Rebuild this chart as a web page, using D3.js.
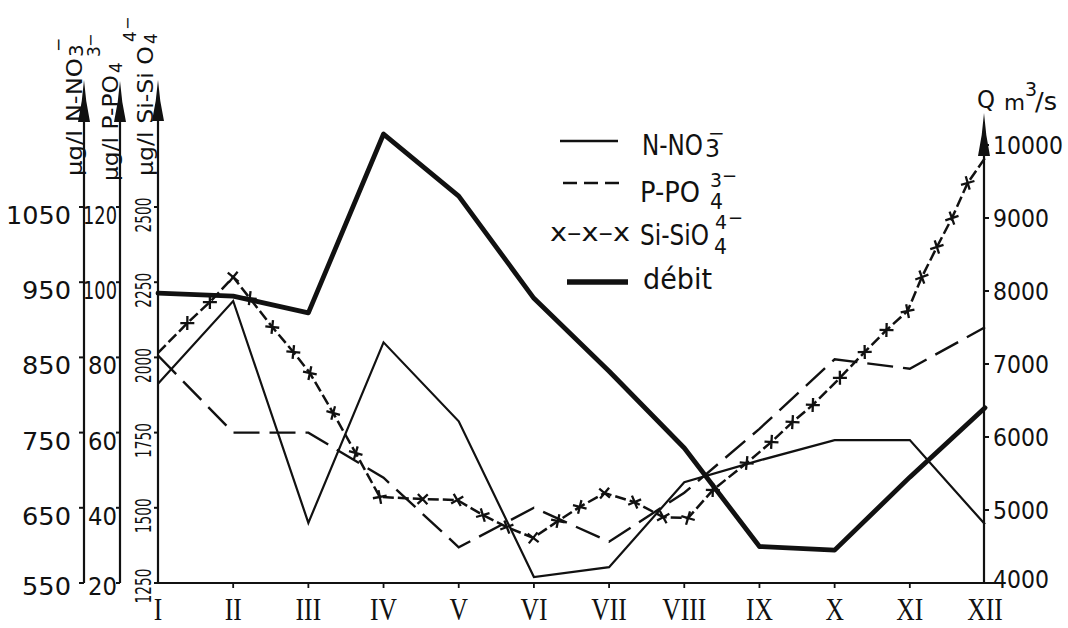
<!DOCTYPE html>
<html><head><meta charset="utf-8">
<script src="https://cdn.jsdelivr.net/npm/d3@7"></script>
<style>body{margin:0;background:#fff} svg{display:block}</style>
</head><body><svg id="c" width="1068" height="628"></svg>
<script>
// ---- data ----
const months = ["I","II","III","IV","V","VI","VII","VIII","IX","X","XI","XII"];
const nitrate   = [815, 925, 630, 870, 765, 558, 571, 684, 713, 740, 740, 628];      // µg/l N-NO3
const phosphate = [80.5, 60, 60, 48, 29.5, 40, 31, 44, 61, 79.5, 77, 88];           // µg/l P-PO4
const debit     = [7970, 7930, 7700, 10150, 9300, 7900, 6900, 5850, 4500, 4450, 5450, 6400]; // m3/s
const silicaMonth = [0, 0.39, 0.69, 1, 1.22, 1.52, 1.8, 2.02, 2.33, 2.63, 2.95, 3.52, 3.98, 4.32, 4.64, 4.99,
  5.32, 5.61, 5.94, 6.34, 6.72, 7.05, 7.38, 7.83, 8.16, 8.44, 8.71, 9.07, 9.4, 9.69, 9.97, 10.16, 10.36, 10.56, 10.77, 11];
const silica = [2015, 2114, 2184, 2267, 2197, 2101, 2018, 1948, 1815, 1682, 1536, 1529, 1526, 1476, 1436, 1400,
  1456, 1503, 1549, 1519, 1469, 1466, 1559, 1649, 1719, 1785, 1842, 1932, 2018, 2091, 2154, 2267, 2367, 2463, 2580, 2663];
const nTicks  = [550, 650, 750, 850, 950, 1050];
const pTicks  = [20, 40, 60, 80, 100, 120];
const siTicks = [1250, 1500, 1750, 2000, 2250, 2500];
const qTicks  = [4000, 5000, 6000, 7000, 8000, 9000, 10000];

// ---- scales ----
const svg = d3.select("#c");
const INK = "#111";
const FONT = "DejaVu Sans, sans-serif";
const x  = d3.scaleLinear().domain([0, 11]).range([158, 985]);
const yN = d3.scaleLinear().domain([550, 1050]).range([583, 207]);
const yP = d3.scaleLinear().domain([20, 120]).range([583, 207]);
const ySi = d3.scaleLinear().domain([1250, 2500]).range([583, 207]);
const yQ = d3.scaleLinear().domain([4000, 10000]).range([583, 145]);

function arrowHead(g, cx, tip, base, hw) {
  g.append("path")
    .attr("d", `M${cx},${tip} Q${cx+1.5},${(tip+base)/2} ${cx+hw},${base} L${cx-hw},${base} Q${cx-1.5},${(tip+base)/2} ${cx},${tip} Z`)
    .attr("fill", INK);
}
function vAxisLine(cx, top) {
  svg.append("line").attr("x1", cx).attr("x2", cx).attr("y1", 583).attr("y2", top)
    .attr("stroke", INK).attr("stroke-width", 2.2);
}

// ---- left axes ----
vAxisLine(84, 100); arrowHead(svg, 84, 80, 122, 6);
vAxisLine(120, 100); arrowHead(svg, 120, 81, 122, 6);
vAxisLine(158, 100); arrowHead(svg, 158, 80, 121, 6);

// N axis ticks + labels
nTicks.forEach((t, i) => {
  const yy = yN(t);
  svg.append("line").attr("x1", 79).attr("x2", 84).attr("y1", yy).attr("y2", yy).attr("stroke", INK).attr("stroke-width", 2);
  const s = String(t);
  svg.append("text").attr("x", 71).attr("y", yy + (i === 0 ? 12 : 17))
    .attr("text-anchor", "end").attr("font-family", FONT).attr("font-size", 25).attr("fill", INK)
    .attr("textLength", s.length === 4 ? 65 : 49).attr("lengthAdjust", "spacingAndGlyphs").text(s);
});
// P axis ticks + labels
pTicks.forEach((t, i) => {
  const yy = yP(t);
  svg.append("line").attr("x1", 116).attr("x2", 120).attr("y1", yy).attr("y2", yy).attr("stroke", INK).attr("stroke-width", 2);
  const s = String(t);
  svg.append("text").attr("x", 117).attr("y", yy + (i === 0 ? 12 : 17))
    .attr("text-anchor", "end").attr("font-family", FONT).attr("font-size", 25).attr("fill", INK)
    .attr("textLength", s.length === 3 ? 34 : 29).attr("lengthAdjust", "spacingAndGlyphs").text(s);
});
// Si axis ticks + rotated labels
siTicks.forEach((t, i) => {
  const yy = ySi(t);
  svg.append("line").attr("x1", 154).attr("x2", 158).attr("y1", yy).attr("y2", yy).attr("stroke", INK).attr("stroke-width", 2);
  svg.append("text").attr("transform", `translate(151,${yy + (i === 0 ? 3 : 8)}) rotate(-90)`)
    .attr("text-anchor", "middle").attr("font-family", FONT).attr("font-size", 21).attr("fill", INK)
    .attr("textLength", 35).attr("lengthAdjust", "spacingAndGlyphs").text(String(t));
});

// rotated axis titles
function rotTitle(bx, by, main, mainLen, scripts) {
  const g = svg.append("g").attr("transform", `translate(${bx},${by}) rotate(-90)`)
    .attr("font-family", FONT).attr("fill", INK);
  g.append("text").attr("x", 0).attr("y", 0).attr("font-size", 22)
    .attr("textLength", mainLen).attr("lengthAdjust", "spacingAndGlyphs").text(main);
  scripts.forEach(s => g.append("text").attr("x", s.x).attr("y", s.y).attr("font-size", s.size).text(s.t));
}
rotTitle(82, 176, "µg/l N-NO", 118, [{t: "3", x: 119, y: 1, size: 20}, {t: "−", x: 124, y: -18, size: 17}]);
rotTitle(118, 181, "µg/l P-PO", 106, [{t: "4", x: 108, y: 4, size: 17}, {t: "3", x: 124, y: -18, size: 17}, {t: "−", x: 134, y: -22, size: 16}]);
rotTitle(153, 176, "µg/l Si-Si O", 130, [{t: "4", x: 132, y: 4, size: 17}, {t: "4", x: 134, y: -17, size: 17}, {t: "−", x: 146, y: -20, size: 16}]);

// ---- right axis ----
vAxisLine(984, 140); arrowHead(svg, 984, 113, 156, 6);
qTicks.forEach(t => {
  const yy = yQ(t);
  if (t !== 4000) svg.append("line").attr("x1", 984).attr("x2", 989).attr("y1", yy).attr("y2", yy).attr("stroke", INK).attr("stroke-width", 2);
  const s = String(t);
  svg.append("text").attr("x", 993).attr("y", yy + (t === 4000 ? 5 : 9))
    .attr("font-family", FONT).attr("font-size", 25).attr("fill", INK)
    .attr("textLength", s.length * 14).attr("lengthAdjust", "spacingAndGlyphs").text(s);
});
{
  const g = svg.append("g").attr("font-family", FONT).attr("fill", INK);
  g.append("text").attr("x", 977).attr("y", 108).attr("font-size", 25).attr("textLength", 18).attr("lengthAdjust", "spacingAndGlyphs").text("Q");
  g.append("text").attr("x", 1004).attr("y", 110).attr("font-size", 22).attr("textLength", 21).attr("lengthAdjust", "spacingAndGlyphs").text("m");
  g.append("text").attr("x", 1025).attr("y", 96).attr("font-size", 19).text("3");
  g.append("text").attr("x", 1035).attr("y", 110).attr("font-size", 24).attr("textLength", 22).attr("lengthAdjust", "spacingAndGlyphs").text("/s");
}

// ---- x axis ----
svg.append("line").attr("x1", 158).attr("x2", 1000).attr("y1", 583).attr("y2", 583).attr("stroke", INK).attr("stroke-width", 2.2);
months.forEach((m, i) => {
  const xx = x(i);
  if (i > 0 && i < 11) svg.append("line").attr("x1", xx).attr("x2", xx).attr("y1", 583).attr("y2", 588).attr("stroke", INK).attr("stroke-width", 1.8);
  svg.append("text").attr("transform", `translate(${xx},620) scale(0.8,1)`)
    .attr("text-anchor", "middle").attr("font-family", "Liberation Serif, serif").attr("font-size", 32).attr("fill", INK).text(m);
});

// ---- series ----
const lineN = d3.line().x((d, i) => x(i)).y(d => yN(d));
const lineP = d3.line().x((d, i) => x(i)).y(d => yP(d));
const lineQ = d3.line().x((d, i) => x(i)).y(d => yQ(d));
const siPts = silica.map((v, i) => [x(silicaMonth[i]), ySi(v)]);

svg.append("path").attr("d", lineQ(debit)).attr("fill", "none").attr("stroke", INK)
  .attr("stroke-width", 4.8).attr("stroke-linejoin", "round").attr("stroke-linecap", "round");
svg.append("path").attr("d", lineN(nitrate)).attr("fill", "none").attr("stroke", INK)
  .attr("stroke-width", 2.2).attr("stroke-linejoin", "miter");
svg.append("path").attr("d", lineP(phosphate)).attr("fill", "none").attr("stroke", INK)
  .attr("stroke-width", 2.4).attr("stroke-dasharray", "26,10");
svg.append("path").attr("d", d3.line()(siPts)).attr("fill", "none").attr("stroke", INK)
  .attr("stroke-width", 2.5).attr("stroke-dasharray", "11,4");
siPts.forEach((p, i) => {
  if (i === 0 || i === siPts.length - 1) return;
  const a = siPts[i - 1], b = siPts[i + 1];
  const ang = Math.atan2(b[1] - a[1], b[0] - a[0]) * 180 / Math.PI + 45;
  svg.append("path").attr("d", "M-7,0L7,0M0,-7L0,7")
    .attr("transform", `translate(${p[0]},${p[1]}) rotate(${ang})`)
    .attr("stroke", INK).attr("stroke-width", 2.3);
});

// ---- legend ----
{
  const g = svg.append("g").attr("font-family", FONT).attr("fill", INK);
  g.append("line").attr("x1", 560).attr("x2", 618).attr("y1", 141).attr("y2", 141).attr("stroke", INK).attr("stroke-width", 2.6);
  g.append("text").attr("x", 642).attr("y", 155).attr("font-size", 29).attr("textLength", 61).attr("lengthAdjust", "spacingAndGlyphs").text("N-NO");
  g.append("text").attr("x", 705).attr("y", 157).attr("font-size", 24).attr("textLength", 15).attr("lengthAdjust", "spacingAndGlyphs").text("3");
  g.append("text").attr("x", 708).attr("y", 140).attr("font-size", 20).text("−");

  g.append("line").attr("x1", 563).attr("x2", 619).attr("y1", 183).attr("y2", 183).attr("stroke", INK).attr("stroke-width", 2.6).attr("stroke-dasharray", "14,7");
  g.append("text").attr("x", 640).attr("y", 202).attr("font-size", 29).attr("textLength", 60).attr("lengthAdjust", "spacingAndGlyphs").text("P-PO");
  g.append("text").attr("x", 710).attr("y", 209).attr("font-size", 21).attr("textLength", 13).attr("lengthAdjust", "spacingAndGlyphs").text("4");
  g.append("text").attr("x", 710).attr("y", 187).attr("font-size", 20).attr("textLength", 12).attr("lengthAdjust", "spacingAndGlyphs").text("3");
  g.append("text").attr("x", 722).attr("y", 182).attr("font-size", 18).text("−");

  g.append("text").attr("x", 550).attr("y", 241).attr("font-size", 24).attr("textLength", 80).attr("lengthAdjust", "spacingAndGlyphs").text("x–x–x");
  g.append("text").attr("x", 640).attr("y", 245).attr("font-size", 29).attr("textLength", 69).attr("lengthAdjust", "spacingAndGlyphs").text("Si-SiO");
  g.append("text").attr("x", 714).attr("y", 254).attr("font-size", 21).attr("textLength", 13).attr("lengthAdjust", "spacingAndGlyphs").text("4");
  g.append("text").attr("x", 715).attr("y", 229).attr("font-size", 20).attr("textLength", 12).attr("lengthAdjust", "spacingAndGlyphs").text("4");
  g.append("text").attr("x", 728).attr("y", 224).attr("font-size", 18).text("−");

  g.append("line").attr("x1", 567).attr("x2", 628).attr("y1", 282).attr("y2", 282).attr("stroke", INK).attr("stroke-width", 5.5);
  g.append("text").attr("x", 643).attr("y", 289).attr("font-size", 29).attr("textLength", 69).attr("lengthAdjust", "spacingAndGlyphs").text("débit");
}
</script></body></html>
